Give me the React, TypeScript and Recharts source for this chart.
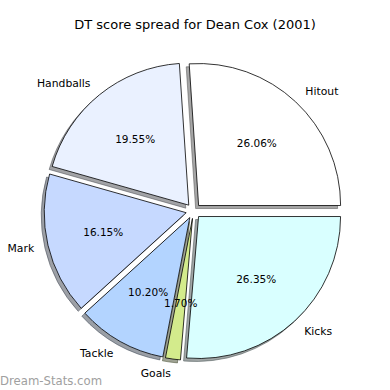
import { PieChart, Pie, Sector } from 'recharts';

const labels = ['Hitout', 'Handballs', 'Mark', 'Tackle', 'Goals', 'Kicks'];
const values = [26.06, 19.55, 16.15, 10.2, 1.7, 26.35];
const colors = ['#ffffff', '#eaf1ff', '#c6d9ff', '#b3d4ff', '#d3eb8c', '#d9ffff'];

const data = labels.map((name, i) => ({ name, value: values[i], color: colors[i] }));

const RAD = Math.PI / 180;
const EXPLODE = 7.5;
const R = 142;
const CX = 193.5;
const CY = 211;
const FONT = '"DejaVu Sans", sans-serif';

function darken(hex: string) {
  const n = parseInt(hex.slice(1), 16);
  const r = Math.round(((n >> 16) & 255) * 0.3);
  const g = Math.round(((n >> 8) & 255) * 0.3);
  const b = Math.round((n & 255) * 0.3);
  return `rgb(${r},${g},${b})`;
}

function shift(p: any) {
  const mid = (p.startAngle + p.endAngle) / 2;
  return { mid, dx: EXPLODE * Math.cos(-mid * RAD), dy: EXPLODE * Math.sin(-mid * RAD) };
}

const renderShadow = (p: any) => {
  const { dx, dy } = shift(p);
  const c = darken(colors[p.index]);
  return (
    <Sector
      key={`s${p.index}`}
      cx={p.cx + dx - 3}
      cy={p.cy + dy + 3}
      innerRadius={0}
      outerRadius={p.outerRadius}
      startAngle={p.startAngle}
      endAngle={p.endAngle}
      fill={c}
      stroke={c}
      fillOpacity={0.5}
      strokeOpacity={0.5}
    />
  );
};

const renderWedge = (p: any) => {
  const { dx, dy } = shift(p);
  return (
    <Sector
      key={`w${p.index}`}
      cx={p.cx + dx}
      cy={p.cy + dy}
      innerRadius={0}
      outerRadius={p.outerRadius}
      startAngle={p.startAngle}
      endAngle={p.endAngle}
      fill={colors[p.index]}
      stroke="#000"
      strokeWidth={0.8}
    />
  );
};

const renderText = (p: any) => {
  const { mid, dx, dy } = shift(p);
  const cos = Math.cos(-mid * RAD);
  const sin = Math.sin(-mid * RAD);
  const ox = p.cx + dx;
  const oy = p.cy + dy;
  const lx = ox + 1.1 * p.outerRadius * cos;
  const ly = oy + 1.1 * p.outerRadius * sin;
  const px = ox + 0.6 * p.outerRadius * cos;
  const py = oy + 0.6 * p.outerRadius * sin;
  return (
    <g key={`t${p.index}`}>
      <text x={lx} y={ly} textAnchor={cos > 0 ? 'start' : 'end'} dominantBaseline="central"
        fontFamily={FONT} fontSize={10.8} fill="#000">
        {labels[p.index]}
      </text>
      <text x={px} y={py} textAnchor="middle" dominantBaseline="central"
        fontFamily={FONT} fontSize={10.5} fill="#000">
        {values[p.index].toFixed(2)}%
      </text>
    </g>
  );
};

export default function App() {
  return (
    <div style={{ position: 'fixed', left: 0, top: 0, width: 390, height: 390, background: '#fff' }}>
      <PieChart width={390} height={390} margin={{ top: 0, right: 0, bottom: 0, left: 0 }}>
        <Pie data={data} dataKey="value" nameKey="name" cx={CX} cy={CY} outerRadius={R}
          startAngle={0} endAngle={360} fill="none" stroke="none" label={renderShadow}
          labelLine={false} isAnimationActive={false} />
        <Pie data={data} dataKey="value" nameKey="name" cx={CX} cy={CY} outerRadius={R}
          startAngle={0} endAngle={360} fill="none" stroke="none" label={renderWedge}
          labelLine={false} isAnimationActive={false} />
        <Pie data={data} dataKey="value" nameKey="name" cx={CX} cy={CY} outerRadius={R}
          startAngle={0} endAngle={360} fill="none" stroke="none" label={renderText}
          labelLine={false} isAnimationActive={false} />
      </PieChart>
      <div style={{ position: 'absolute', left: 0, top: 17, width: 390, textAlign: 'center',
        fontFamily: FONT, fontSize: 13, lineHeight: '16px', color: '#000' }}>
        DT score spread for Dean Cox (2001)
      </div>
      <div style={{ position: 'absolute', left: 0, top: 374, fontFamily: FONT, fontSize: 11.7,
        lineHeight: '14px', color: '#a0a0a0' }}>
        Dream-Stats.com
      </div>
    </div>
  );
}
